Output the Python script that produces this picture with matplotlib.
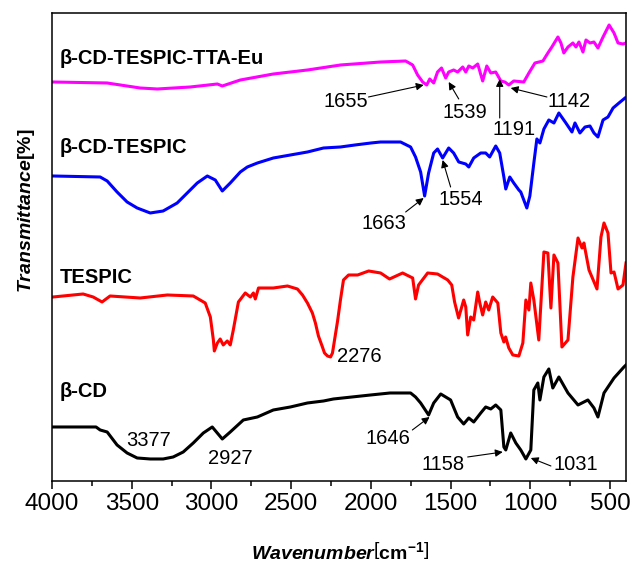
import matplotlib.pyplot as plt
import numpy as np

plt.rcParams['font.family'] = 'Liberation Sans'
plt.rcParams['mathtext.fontset'] = 'custom'
plt.rcParams['mathtext.rm'] = 'Liberation Sans'
plt.rcParams['mathtext.bf'] = 'Liberation Sans:bold'
plt.rcParams['mathtext.bfit'] = 'Liberation Sans:bold:italic'

# FTIR spectra, stacked (arbitrary transmittance units)
bcd_wn = [3994, 3724, 3698, 3654, 3592, 3529, 3466, 3384, 3303, 3240, 3177, 3114, 3051, 2995,
          2932, 2882, 2800, 2712, 2612, 2505, 2398, 2297, 2235, 2002, 1880, 1751, 1720, 1688,
          1638, 1606, 1562, 1500, 1456, 1418, 1386, 1355, 1311, 1280, 1248,
          1217, 1185, 1166, 1154, 1123, 1091, 1060, 1028, 997, 978, 953, 940, 915, 884, 859,
          821, 764, 701, 639, 601, 576, 538, 475, 413, 400]
bcd_t = [54, 54, 51, 49, 36, 28, 23, 22, 22, 24, 29, 38, 48, 54,
         42, 49, 61, 64, 71, 74, 78, 80, 82, 86, 88, 88, 84, 78,
         66, 78, 87, 81, 64, 57, 63, 59, 68, 74, 72,
         76, 71, 34, 31, 48, 38, 31, 22, 31, 91, 98, 81, 104, 112, 93,
         104, 88, 76, 81, 73, 64, 88, 103, 114, 116]

tespic_wn = [3994, 3805, 3742, 3686, 3636, 3447, 3277, 3114, 3039, 3007, 2988, 2982, 2963, 2945,
             2926, 2901, 2882, 2863, 2831, 2788, 2756, 2737, 2725, 2705, 2612, 2523, 2461, 2429,
             2398, 2367, 2348, 2329, 2304, 2291, 2272, 2253, 2241, 2228, 2209, 2191, 2172, 2140,
             2083, 2014, 1939, 1883, 1801, 1738, 1720,
             1701, 1644, 1582, 1518, 1493, 1475, 1450, 1418, 1405, 1393, 1374, 1355, 1330, 1317,
             1299, 1280, 1261, 1236, 1204, 1185, 1166, 1155, 1135, 1110, 1072, 1047, 1028, 1009,
             997, 978, 947, 915, 890, 871, 852, 827, 802, 764, 733, 701, 676, 664, 632, 582, 557,
             538, 513, 494, 475, 450, 419, 400]
tespic_t = [184, 187, 184, 179, 185, 183, 186, 185, 178, 164, 141, 130, 138, 142,
            136, 140, 136, 151, 179, 188, 184, 188, 182, 193, 193, 195, 192, 186,
            178, 168, 158, 145, 134, 128, 125, 124, 128, 141, 160, 181, 201, 206,
            206, 210, 208, 202, 208, 203, 182,
            196, 208, 207, 201, 196, 179, 163, 181, 174, 146, 164, 161, 189, 178,
            166, 179, 171, 184, 178, 148, 139, 144, 133, 126, 125, 138, 181, 171,
            198, 181, 141, 229, 228, 173, 226, 218, 134, 141, 204, 243, 233, 238, 211, 192, 244,
            258, 248, 208, 209, 192, 196, 218]

bcdt_wn = [3994, 3698, 3654, 3592, 3529, 3466, 3384, 3303, 3215, 3152, 3089, 3026, 2976, 2932,
           2882, 2819, 2775, 2712, 2612, 2505, 2398, 2297, 2191, 2100, 2000, 1939, 1814, 1751,
           1720, 1688, 1663, 1638, 1606, 1582, 1550, 1512, 1481,
           1449, 1405, 1386, 1355, 1311, 1280, 1255, 1217, 1192, 1166, 1154, 1129, 1104, 1072,
           1060, 1041, 1022, 1003, 978, 959, 940, 915, 884, 852, 821, 777, 739, 720, 689, 657,
           626, 601, 576, 544, 513, 481, 444, 406]
bcdt_t = [305, 304, 300, 289, 279, 273, 268, 270, 278, 288, 298, 305, 301, 290,
          298, 309, 314, 318, 323, 326, 329, 333, 334, 336, 338, 339, 339, 334,
          324, 309, 285, 308, 328, 332, 323, 333, 328,
          319, 317, 314, 323, 328, 328, 324, 335, 328, 304, 292, 304, 298, 291,
          289, 281, 273, 285, 318, 342, 338, 352, 361, 358, 368, 358, 349, 358, 348, 354,
          355, 348, 344, 361, 364, 373, 378, 383]

eu_wn = [3994, 3654, 3447, 3340, 3133, 2963, 2932, 2819, 2612, 2398, 2191, 1939, 1782, 1738,
         1707, 1675, 1650, 1631, 1606, 1582, 1557, 1531, 1512, 1481, 1456, 1424, 1405, 1386,
         1361, 1330, 1299, 1273, 1248, 1217, 1185, 1160, 1135, 1104, 1041, 1009, 971, 921, 890,
         865, 827, 808, 790, 764, 733, 714, 695, 670, 651, 626, 601, 576, 544, 506, 475, 450,
         419, 400]
eu_t = [399, 398, 393, 392, 394, 397, 395, 401, 407, 411, 416, 419, 420, 416,
        406, 399, 396, 402, 398, 409, 413, 403, 409, 411, 409, 414, 409, 415,
        413, 417, 400, 415, 408, 409, 400, 399, 396, 400, 399, 408, 418, 420, 428,
        434, 444, 438, 428, 434, 438, 434, 439, 429, 441, 438, 439, 433, 444, 456, 448, 438,
        437, 438]

names = ['β-CD', 'TESPIC', 'β-CD-TESPIC', 'β-CD-TESPIC-TTA-Eu']
colors = ['black', '#ff0000', '#0000ff', '#ff00ff']
name_y = [84, 198, 328, 417]

# peak labels: text, text position, arrow tail, arrow head (None = no arrow)
peaks = [
    ('3377', (3397, 35), None, None),
    ('2927', (2882, 17), None, None),
    ('1646', (1895, 37), (1740, 51), (1632, 64)),
    ('1158', (1550, 11), (1393, 24), (1173, 29)),
    ('1031', (714, 11), (871, 15), (997, 23)),
    ('2276', (2071, 119), None, None),
    ('1663', (1920, 252), (1782, 269), (1669, 283)),
    ('1554', (1437, 276), (1500, 294), (1550, 321)),
    ('1655', (2159, 374), (2015, 384), (1669, 396)),
    ('1539', (1412, 363), (1449, 382), (1512, 399)),
    ('1191', (1104, 346), (1192, 363), (1192, 402)),
    ('1142', (758, 374), (896, 384), (1123, 393)),
]

fig = plt.figure(figsize=(6.32, 5.65), dpi=100)
ax = fig.add_axes([0.0823, 0.1487, 0.9082, 0.8283])

series = [(bcd_wn, bcd_t), (tespic_wn, tespic_t), (bcdt_wn, bcdt_t), (eu_wn, eu_t)]
for (wn, t), c, name, ny in zip(series, colors, names, name_y):
    ax.plot(wn, t, color=c, lw=2.2, solid_joinstyle='round')
    ax.text(3950, ny, name, fontsize=14.5, fontweight='bold', ha='left', va='baseline')

for label, tpos, tail, head in peaks:
    ax.text(tpos[0], tpos[1], label, fontsize=14.5, ha='center', va='baseline')
    if tail is not None:
        ax.annotate('', xy=head, xytext=tail,
                    arrowprops=dict(arrowstyle='-|>', lw=0.8, color='black',
                                    mutation_scale=11, shrinkA=0, shrinkB=0))

ax.set_xlim(4000, 400)
ax.set_ylim(0, 468)
ax.set_xticks(np.arange(500, 4001, 500))
ax.set_xticks(np.arange(750, 4000, 500), minor=True)
ax.tick_params(axis='x', which='major', direction='out', length=6, width=1.1,
               labelsize=17.5, pad=3)
ax.tick_params(axis='x', which='minor', direction='out', length=3.5, width=1.1)
ax.set_yticks([])
for s in ax.spines.values():
    s.set_linewidth(1.1)

fig.text(27 / 632, 1 - 211 / 565, r'$\mathbfit{Transmittance}\mathbf{[\%]}$',
         rotation=90, ha='center', va='center', fontsize=14)
fig.text(340 / 632, 1 - 560 / 565,
         r'$\mathbfit{Wavenumber}\left[\mathbf{cm}^{\mathbf{-1}}\right]$',
         ha='center', va='baseline', fontsize=14)

fig.savefig('out.png', dpi=100, facecolor='white')
